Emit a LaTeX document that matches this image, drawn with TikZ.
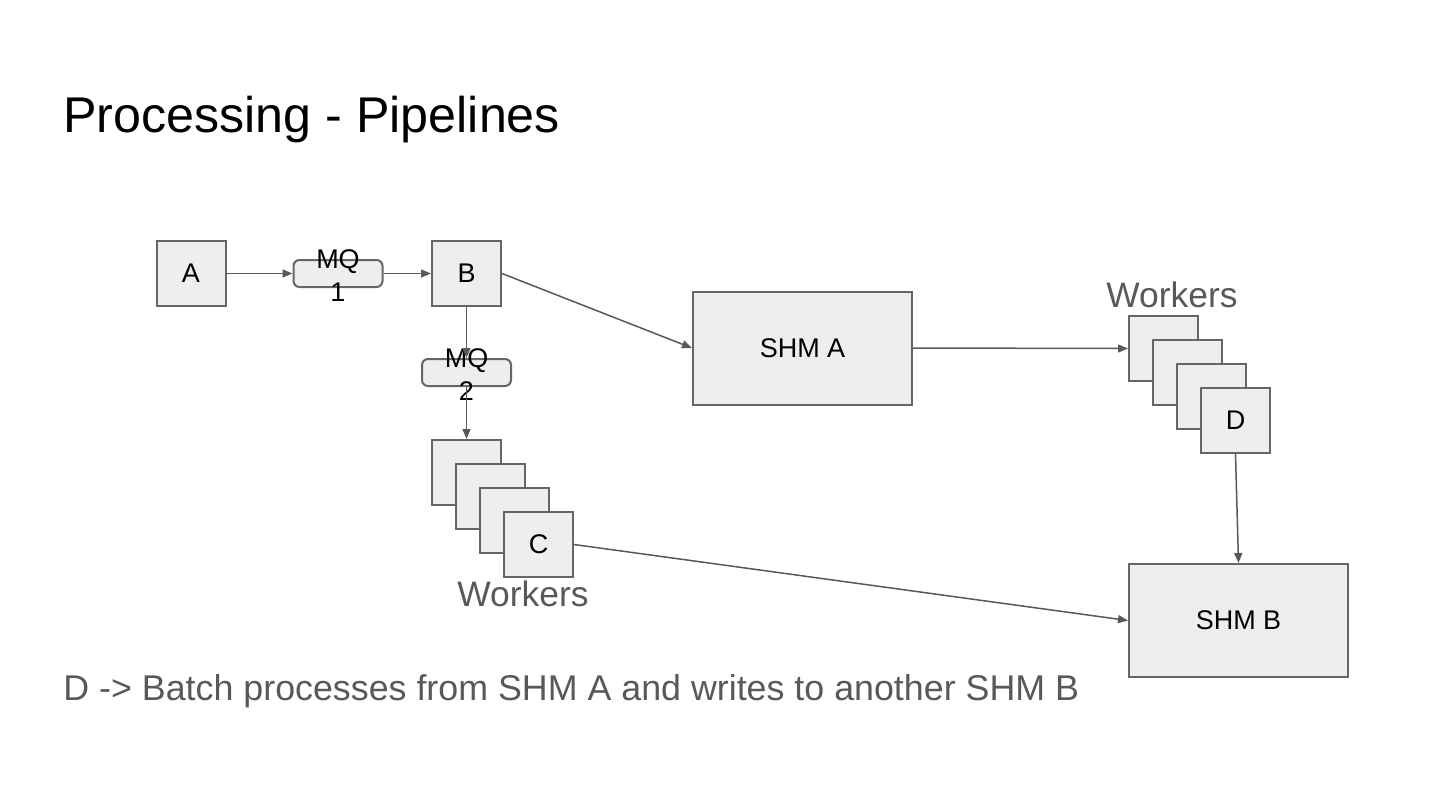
\documentclass[tikz,border=0pt]{standalone}
\usepackage{fontspec}
\setmainfont{Liberation Sans}
\usetikzlibrary{arrows.meta}
\definecolor{boxfill}{HTML}{EEEEEE}
\definecolor{boxline}{HTML}{666666}
\definecolor{arrowc}{HTML}{595959}
\definecolor{greytext}{HTML}{595959}
\begin{document}
\begin{tikzpicture}[x=0.5pt,y=-0.5pt,
  box/.style={draw=boxline,fill=boxfill,line width=1pt,inner sep=0pt,
    font=\fontsize{13.5pt}{16.5pt}\selectfont},
  sq/.style={box,minimum width=34.5pt,minimum height=32.5pt},
  shm/.style={box,minimum width=109.5pt,minimum height=56.5pt},
  mq/.style={box,rounded corners=3pt,minimum width=44.5pt,minimum height=13.5pt},
  mqtext/.style={align=center,inner sep=0pt,font=\fontsize{13.5pt}{16.5pt}\selectfont},
  conn/.style={draw=arrowc,line width=0.75pt,-{Triangle[length=5pt,width=4pt]}},
  worklabel/.style={text=greytext,font=\fontsize{17.7pt}{20pt}\selectfont,inner sep=0pt,anchor=base west}
]
\useasboundingbox (0,0) rectangle (1440,810);

\node[anchor=base west,inner sep=0pt,font=\fontsize{25.1pt}{30pt}\selectfont] (title) at (63,132) {Processing - Pipelines};

\node[sq] (A) at (191,273.5) {A};
\node[mq] (MQ1) at (338,273.5) {};
\node[mqtext] (MQ1t) at (338,276) {MQ\\1};
\node[sq] (B) at (466.5,273.5) {B};
\node[mq] (MQ2) at (466.5,372.5) {};
\node[mqtext] (MQ2t) at (466.5,375) {MQ\\2};

% C workers
\node[sq] (C1) at (466.5,472.5) {};
\node[sq] (C2) at (490.5,496.5) {};
\node[sq] (C3) at (514.5,520.5) {};
\node[sq] (C4) at (538.5,544.5) {C};
\node[worklabel] (CW) at (457,606) {Workers};

\node[shm] (SHMA) at (802.5,348) {SHM A};

% D workers
\node[sq] (D1) at (1163.5,348.5) {};
\node[sq] (D2) at (1187.5,372.5) {};
\node[sq] (D3) at (1211.5,396.5) {};
\node[sq] (D4) at (1235.5,420.5) {D};
\node[worklabel] (DW) at (1106,307) {Workers};

\node[shm] (SHMB) at (1238.5,620.5) {SHM B};

\node[anchor=base west,inner sep=0pt,text=greytext,font=\fontsize{17.9pt}{21pt}\selectfont] (note) at (63,700) {D -> Batch processes from SHM A and writes to another SHM B};

\draw[conn] (A.east) -- (MQ1.west);
\draw[conn] (MQ1.east) -- (B.west);
\draw[conn] (B.south) -- (MQ2.north);
\draw[conn] (MQ2.south) -- (C1.north);
\draw[conn] (B.east) -- (SHMA.west);
\draw[conn] (SHMA.east) -- (D1.west);
\draw[conn] (D4.south) -- (SHMB.north);
\draw[conn] (C4.east) -- (SHMB.west);
\end{tikzpicture}
\end{document}
